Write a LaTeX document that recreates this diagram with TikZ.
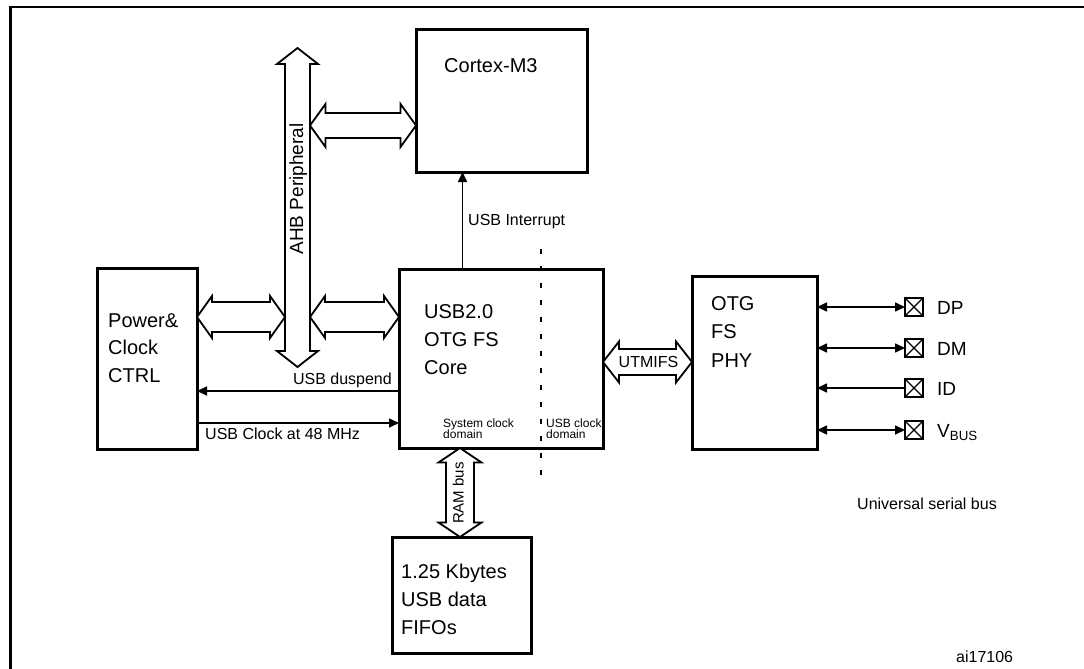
\documentclass[tikz,border=0pt]{standalone}
\usepackage{fontspec}
\setmainfont{Liberation Sans}
\usetikzlibrary{arrows.meta,calc}
\tikzset{
  blk/.style={draw, line width=3pt, inner sep=0pt, outer sep=0pt},
  busline/.style={draw, line width=1.8pt, fill=white, line join=miter},
  conn/.style={line width=1.6pt, -{Triangle[length=10pt,width=9pt]}},
  biconn/.style={line width=1.6pt, {Triangle[length=10pt,width=9pt]}-{Triangle[length=10pt,width=9pt]}},
  bigtxt/.style={inner sep=0pt, anchor=base west, font=\fontsize{20}{24}\selectfont},
  midtxt/.style={inner sep=0pt, anchor=base west, font=\fontsize{16}{19}\selectfont},
  smalltxt/.style={inner sep=0pt, anchor=base west, font=\fontsize{12}{14}\selectfont},
  pintxt/.style={inner sep=0pt, anchor=base west, font=\fontsize{19}{22}\selectfont},
  pinbox/.style={draw, line width=1.4pt, minimum size=18pt, inner sep=0pt, outer sep=0pt,
    path picture={\draw[line width=1.2pt] (path picture bounding box.north west) -- (path picture bounding box.south east)
      (path picture bounding box.north east) -- (path picture bounding box.south west);}},
}
\newcommand\hbusarrow[5]{%
  \draw[busline] let \p1=#1, \p2=#2 in
    (\x1,\y1) -- (\x1+#5,\y1+#4) -- (\x1+#5,\y1+#3) -- (\x2-#5,\y1+#3) -- (\x2-#5,\y1+#4)
    -- (\x2,\y1) -- (\x2-#5,\y1-#4) -- (\x2-#5,\y1-#3) -- (\x1+#5,\y1-#3) -- (\x1+#5,\y1-#4) -- cycle;}
\newcommand\vbusarrow[5]{%
  \draw[busline] let \p1=#1, \p2=#2 in
    (\x1,\y1) -- (\x1+#4,\y1-#5) -- (\x1+#3,\y1-#5) -- (\x1+#3,\y2+#5) -- (\x1+#4,\y2+#5)
    -- (\x1,\y2) -- (\x1-#4,\y2+#5) -- (\x1-#3,\y2+#5) -- (\x1-#3,\y1-#5) -- (\x1-#4,\y1-#5) -- cycle;}
\begin{document}
\begin{tikzpicture}[x=1pt,y=-1pt]
\useasboundingbox (0,0) rectangle (1084,669);
% outer frame
\draw[line width=2.6pt] (10.5,700) -- (10.5,7) -- (1100,7);

% blocks
\node[blk, minimum width=171pt, minimum height=142pt] (cortex) at (501.5,101) {};
\node[blk, minimum width=100pt, minimum height=181pt] (pwr) at (147,358.5) {};
\node[blk, minimum width=204pt, minimum height=179pt] (core) at (501,358.5) {};
\node[blk, minimum width=125pt, minimum height=173pt] (phy) at (754.5,362.5) {};
\node[blk, minimum width=139pt, minimum height=116pt] (fifo) at (461.5,595) {};

% texts in blocks
\node[bigtxt] (tcortex) at (444,73) {Cortex-M3};
\node[bigtxt] (tp1) at (108,327) {Power\&};
\node[bigtxt] (tp2) at (108,354.5) {Clock};
\node[bigtxt] (tp3) at (108,382) {CTRL};
\node[bigtxt] (tc1) at (424,318) {USB2.0};
\node[bigtxt] (tc2) at (424,346.5) {OTG FS};
\node[bigtxt] (tc3) at (424,374) {Core};
\node[bigtxt] (th1) at (711,310) {OTG};
\node[bigtxt] (th2) at (711,338.5) {FS};
\node[bigtxt] (th3) at (711,367) {PHY};
\node[bigtxt] (tf1) at (401,578) {1.25 Kbytes};
\node[bigtxt] (tf2) at (401,606.5) {USB data};
\node[bigtxt] (tf3) at (401,634) {FIFOs};

% clock domains
\draw[line width=2.2pt, dash pattern=on 5pt off 12pt] (541,249) -- (541,477);
\node[smalltxt] (sd1) at (443,427) {System clock};
\node[smalltxt] (sd2) at (443,438.5) {domain};
\node[smalltxt] (ud1) at (546,427) {USB clock};
\node[smalltxt] (ud2) at (546,438.5) {domain};

% AHB bus
\coordinate (ahbT) at (297.5,48);
\coordinate (ahbB) at (297.5,367);
\coordinate (ahbW) at (285,317);
\coordinate (ahbE) at (310,317);
\coordinate (ahbE2) at (310,125.5);
\vbusarrow{(ahbT)}{(ahbB)}{12.5pt}{20.5pt}{16pt}
\node[rotate=90, anchor=base, inner sep=0pt, font=\fontsize{19}{22}\selectfont] (ahblbl) at (303,189) {AHB Peripheral};
\hbusarrow{(ahbE2)}{(cortex.west |- ahbE2)}{12.5pt}{21.5pt}{15.5pt}
\hbusarrow{(pwr.east |- ahbW)}{(ahbW)}{15pt}{21pt}{15pt}
\hbusarrow{(ahbE)}{(core.west |- ahbE)}{15pt}{21pt}{15pt}

% UTMIFS bus
\coordinate (utm) at (0,362);
\hbusarrow{(core.east |- utm)}{(phy.west |- utm)}{13pt}{20.5pt}{16pt}
\node[anchor=base, inner sep=0pt, font=\fontsize{16}{19}\selectfont] (utmlbl) at (648.5,367.5) {UTMIFS};

% RAM bus
\coordinate (ramx) at (460,0);
\vbusarrow{(core.south -| ramx)}{(fifo.north -| ramx)}{14pt}{21.5pt}{14.5pt}
\node[rotate=90, anchor=base, inner sep=0pt, font=\fontsize{15}{18}\selectfont] (ramlbl) at (463.5,493) {RAM bus};

% signal connectors
\coordinate (intx) at (462.5,0);
\draw[conn] (core.north -| intx) -- (cortex.south -| intx);
\node[midtxt] (intlbl) at (468,225) {USB Interrupt};
\coordinate (dsy) at (0,391);
\draw[conn] (core.west |- dsy) -- (pwr.east |- dsy);
\node[midtxt, anchor=base east] (dslbl) at (392,384) {USB duspend};
\coordinate (cky) at (0,423);
\draw[conn] (pwr.east |- cky) -- (core.west |- cky);
\node[midtxt] (cklbl) at (205,439) {USB Clock at 48 MHz};

% pins
\node[pinbox] (pDP) at (914,307) {};
\node[pinbox] (pDM) at (914,348) {};
\node[pinbox] (pID) at (914,388) {};
\node[pinbox] (pVB) at (914,430) {};
\draw[biconn] (phy.east |- pDP) -- (pDP.west);
\draw[biconn] (phy.east |- pDM) -- (pDM.west);
\draw[conn] (pID.west) -- (phy.east |- pID);
\draw[biconn] (phy.east |- pVB) -- (pVB.west);
\node[pintxt] (lDP) at (937,314) {DP};
\node[pintxt] (lDM) at (937,355) {DM};
\node[pintxt] (lID) at (937,395) {ID};
\node[pintxt] (lVB) at (937,437) {V\textsubscript{BUS}};

\node[midtxt] (usblbl) at (857,509) {Universal serial bus};
\node[midtxt] (ailbl) at (956,662) {ai17106};
\end{tikzpicture}
\end{document}
